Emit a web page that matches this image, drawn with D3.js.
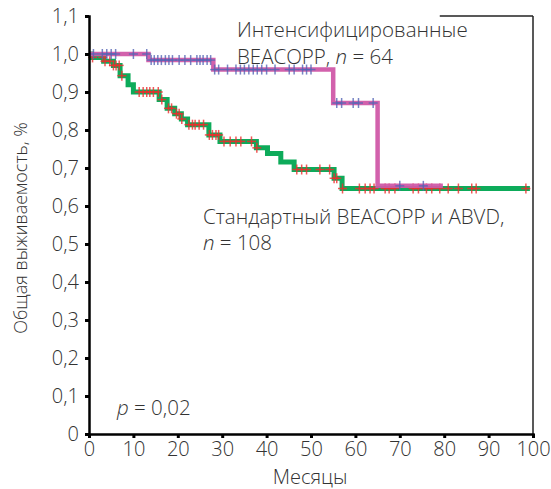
<!DOCTYPE html>
<html>
<head>
<meta charset="utf-8">
<script src="https://cdn.jsdelivr.net/npm/d3@7"></script>
<style>
  body { margin: 0; background: #fff; }
  text { font-family: "Open Sans", sans-serif; fill: #333; font-weight: 300; }
</style>
</head>
<body>
<svg></svg>
<script>
// step points [months, survival]
const intensSteps = [[0, 1.0], [13.4, 0.984], [28, 0.959], [55, 0.871], [65, 0.653], [79.7, 0.653]];
const standardSteps = [[0, 1.0], [0.5, 0.991], [3.3, 0.981], [5.5, 0.970], [7.0, 0.943], [8.8, 0.919],
  [10.0, 0.900], [15.8, 0.880], [17.6, 0.857], [19.3, 0.843], [20.8, 0.829], [22.2, 0.814],
  [27.0, 0.787], [29.5, 0.770], [37.7, 0.753], [40.2, 0.738], [43.2, 0.716], [46.2, 0.696],
  [55.2, 0.673], [57.0, 0.646], [99.3, 0.646]];

// censored observations (months)
const intensCensor = [1, 3, 4, 5, 6, 10, 13, 14, 14.7, 15.5, 16.3, 17.2, 18, 18.8, 20.3, 21.6, 22.9,
  24.3, 25, 25.7, 26.6, 27.4, 28.3, 29.2, 31.2, 33.1, 34.1, 35, 36, 37, 37.9, 38.9, 40, 41.9,
  45.1, 46.2, 48.1, 49, 50, 55.8, 56.9, 59.5, 60.7, 64, 70, 75.3];
const standardCensor = [0.8, 3.1, 3.6, 4.7, 5.5, 6.1, 6.8, 7.4, 11.3, 12.2, 13, 13.7, 14.5, 15.6,
  16.4, 17.9, 18.6, 19.7, 20.3, 20.9, 22.5, 23.3, 23.9, 24.8, 25.8, 27.1, 27.8, 28.6, 29.2, 30.4,
  31.8, 33.1, 34.2, 36.6, 37.8, 46.8, 47.9, 49, 52, 54.2, 55.2, 55.8, 57.1, 60.9, 62.2, 63.3, 64.2,
  66.7, 67.6, 68.9, 73, 74.2, 76, 77.2, 79, 80.9, 83.2, 86.2, 87.2, 98.4];

const xTicks = [0, 10, 20, 30, 40, 50, 60, 70, 80, 90, 100];
const yTicks = [0, 0.1, 0.2, 0.3, 0.4, 0.5, 0.6, 0.7, 0.8, 0.9, 1.0, 1.1];
const yTickLabels = ["0", "0,1", "0,2", "0,3", "0,4", "0,5", "0,6", "0,7", "0,8", "0,9", "1,0", "1,1"];

const svgWidth = 551, svgHeight = 489;
const svg = d3.select("svg").attr("width", svgWidth).attr("height", svgHeight);

const x = d3.scaleLinear().domain([0, 100]).range([89, 533]);
const y = d3.scaleLinear().domain([0, 1.1]).range([434, 16]);

// frame (right + top right)
svg.append("line").attr("x1", x(100)).attr("x2", x(100)).attr("y1", y(1.1)).attr("y2", y(0))
  .attr("stroke", "#222").attr("stroke-width", 1.5);
svg.append("line").attr("x1", x(79)).attr("x2", x(100)).attr("y1", y(1.1)).attr("y2", y(1.1))
  .attr("stroke", "#222").attr("stroke-width", 1.5);

function levelAt(steps, t) {
  let v = steps[0][1];
  steps.forEach(function(s) { if (s[0] <= t) v = s[1]; });
  return v;
}

const line = d3.line().x(function(d) { return x(d[0]); }).y(function(d) { return y(d[1]); })
  .curve(d3.curveStepAfter);

function drawCurve(steps, color, width) {
  svg.append("path").datum(steps).attr("d", line)
    .attr("fill", "none").attr("stroke", color).attr("stroke-width", width)
    .attr("stroke-opacity", 0.95);
}

function drawCensor(times, steps, color) {
  const g = svg.append("g").attr("stroke", color).attr("stroke-width", 1.5).attr("stroke-opacity", 0.8);
  times.forEach(function(t) {
    const cx = x(t), cy = y(levelAt(steps, t));
    g.append("line").attr("x1", cx - 4.5).attr("x2", cx + 4.5).attr("y1", cy).attr("y2", cy);
    g.append("line").attr("x1", cx).attr("x2", cx).attr("y1", cy - 5).attr("y2", cy + 5);
  });
}

drawCurve(standardSteps, "#00a651", 5);
drawCensor(standardCensor, standardSteps, "#ee2d2d");
drawCurve(intensSteps, "#d058a8", 4.5);
drawCensor(intensCensor, intensSteps, "#5565b5");

// axes
const yAxis = svg.append("g").attr("transform", "translate(" + x(0) + ",0)")
  .call(d3.axisLeft(y).tickValues(yTicks).tickSize(4).tickPadding(6)
    .tickFormat(function(d, i) { return yTickLabels[i]; }));
const xAxis = svg.append("g").attr("transform", "translate(0," + y(0) + ")")
  .call(d3.axisBottom(x).tickValues(xTicks).tickSize(4).tickPadding(4));

[xAxis, yAxis].forEach(function(a) {
  a.select(".domain").attr("stroke", "#000").attr("stroke-width", 2.5);
  a.selectAll(".tick line").attr("stroke", "#000").attr("stroke-width", 3);
  a.selectAll(".tick text").style("font-size", "20px").attr("fill", "#333");
});

// labels
svg.append("text").attr("x", 310).attr("y", 484).attr("text-anchor", "middle")
  .style("font-size", "20px").text("Месяцы");
svg.append("text").attr("transform", "translate(27,228) rotate(-90)").attr("text-anchor", "middle")
  .style("font-size", "18px").text("Общая выживаемость, %");

const t1 = svg.append("text").attr("x", 237).attr("y", 37).style("font-size", "20.5px");
t1.append("tspan").text("Интенсифицированные");
const t2 = svg.append("text").attr("x", 237).attr("y", 64).style("font-size", "20.5px");
t2.append("tspan").text("BEACOPP, ");
t2.append("tspan").style("font-style", "italic").text("n");
t2.append("tspan").text(" = 64");

svg.append("text").attr("x", 203).attr("y", 224).style("font-size", "20.5px")
  .text("Стандартный BEACOPP и ABVD,");
const t4 = svg.append("text").attr("x", 203).attr("y", 250).style("font-size", "20.5px");
t4.append("tspan").style("font-style", "italic").text("n");
t4.append("tspan").text(" = 108");

const t5 = svg.append("text").attr("x", 117).attr("y", 415).style("font-size", "20.5px");
t5.append("tspan").style("font-style", "italic").text("p");
t5.append("tspan").text(" = 0,02");
</script>
</body>
</html>
